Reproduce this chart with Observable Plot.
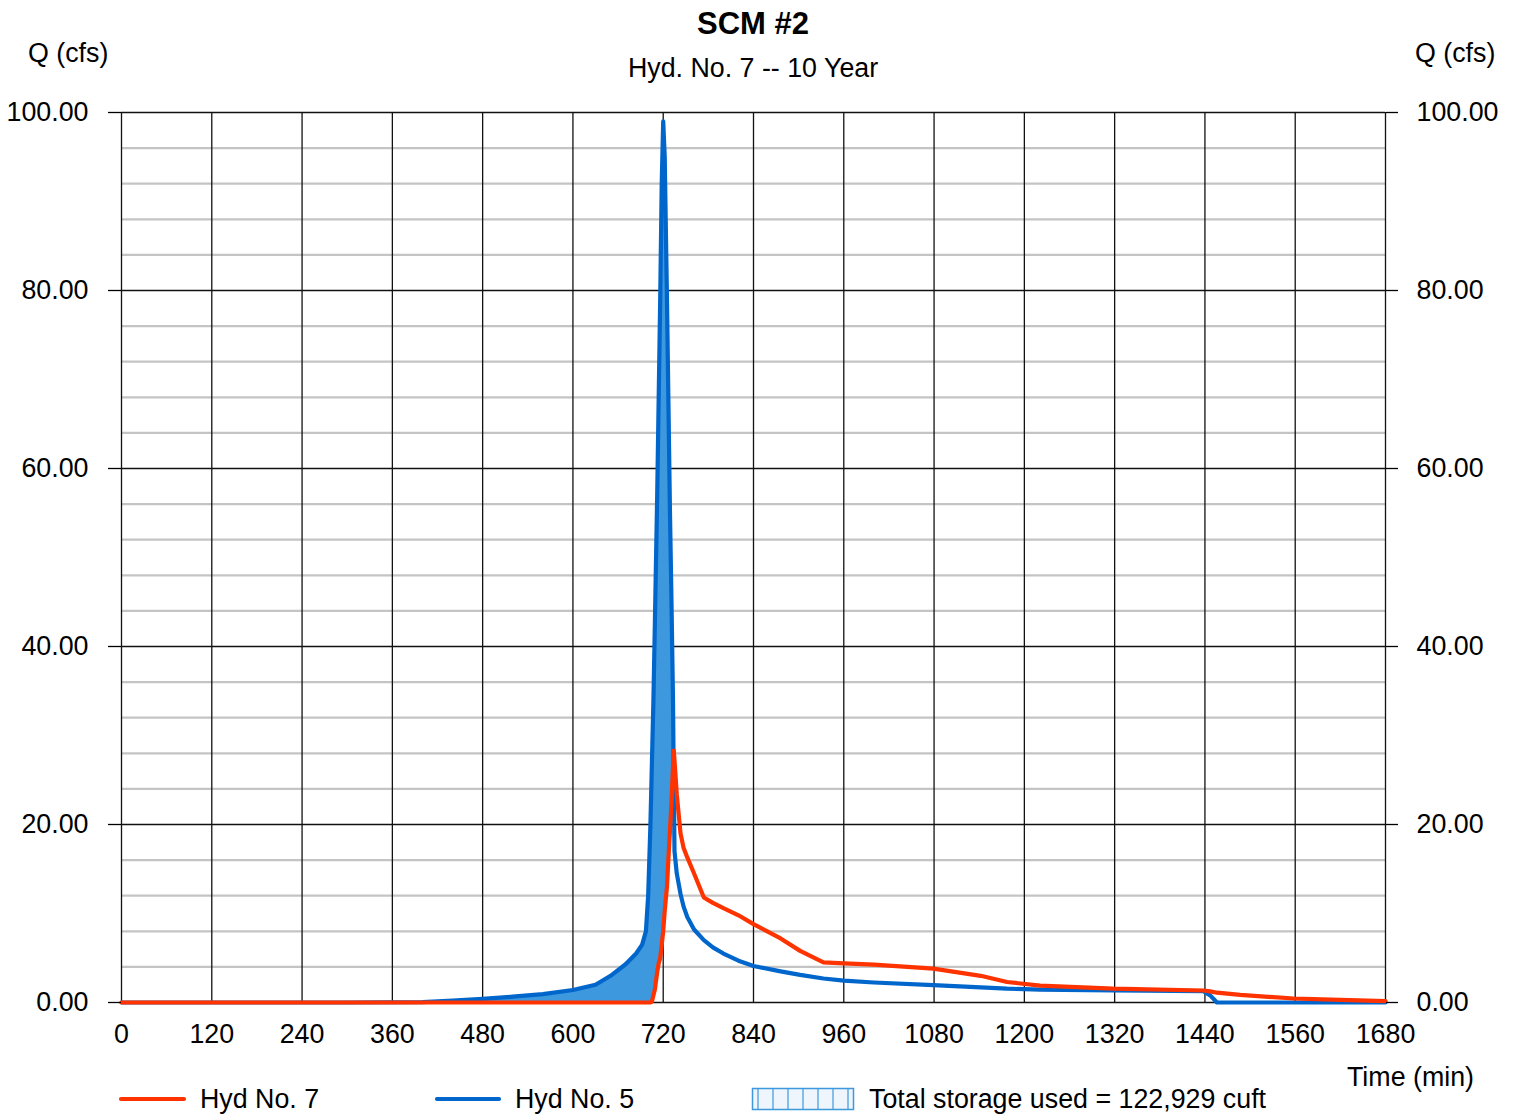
<!DOCTYPE html>
<html><head><meta charset="utf-8">
<script src="https://cdn.jsdelivr.net/npm/d3@7"></script>
<script src="https://cdn.jsdelivr.net/npm/@observablehq/plot@0.6"></script>
<style>
body{margin:0;background:#fff;font-family:"Liberation Sans",Arial,sans-serif;}
#wrap{position:relative;width:1514px;height:1114px;overflow:hidden;}
#wrap svg{position:absolute;left:0;top:0;}
.t{position:absolute;white-space:nowrap;line-height:1;color:#000;font-size:26.8px;}
.c{transform:translateX(-50%);}
</style></head><body>
<div id="wrap">
  <div id="chart"></div>
  <div class="t c" style="left:753px;top:8px;font-size:31px;font-weight:bold;">SCM #2</div>
  <div class="t c" style="left:753px;top:55px;">Hyd. No. 7 -- 10 Year</div>
  <div class="t" style="left:28px;top:40px;">Q (cfs)</div>
  <div class="t" style="left:1415px;top:40px;">Q (cfs)</div>
  <div class="t" style="left:1347px;top:1064px;">Time (min)</div>
  <div id="legend"></div>
</div>
<script>
const times = [0, 300, 400, 440, 480, 520, 560, 600, 630, 650, 670, 684, 692, 697, 700, 703, 705, 707, 709, 712, 714, 716, 718, 720, 722, 725, 727, 729, 731, 733, 734, 735, 738, 743, 747, 752, 761, 774, 786, 800, 820, 840, 876, 902, 933, 960, 1000, 1079, 1142, 1177, 1221, 1318, 1438, 1447, 1456, 1487, 1558, 1620, 1680];
const hyd5 = [0, 0, 0.05, 0.2, 0.4, 0.65, 0.95, 1.4, 2.0, 3.0, 4.3, 5.5, 6.5, 8, 12, 20, 27, 34, 43, 57, 68, 79, 92, 99, 95, 79, 67, 55, 45, 34, 25, 17, 14.5, 12.2, 10.8, 9.6, 8.2, 7.0, 6.2, 5.5, 4.7, 4.1, 3.5, 3.1, 2.7, 2.45, 2.25, 1.95, 1.7, 1.55, 1.45, 1.35, 1.28, 0.8, 0, 0, 0, 0, 0];
const hyd7 = [0, 0, 0, 0, 0, 0, 0, 0, 0, 0, 0, 0, 0, 0, 0, 0, 0.1, 0.8, 1.5, 3.4, 4.4, 5, 6.5, 8, 10.3, 13, 16.3, 19.3, 22.5, 26.5, 28.3, 27.2, 23.4, 19, 17.4, 16.3, 14.5, 11.8, 11.2, 10.6, 9.8, 8.8, 7.2, 5.8, 4.5, 4.4, 4.25, 3.8, 3.0, 2.3, 1.9, 1.55, 1.35, 1.25, 1.1, 0.85, 0.45, 0.3, 0.15];
const xTicks = d3.range(0, 1681, 120);
const yTicks = [0, 20, 40, 60, 80, 100];
const yMinor = d3.range(0, 101, 4).filter(v => v % 20 !== 0);
const legendItems = ["Hyd No. 7", "Hyd No. 5", "Total storage used = 122,929 cuft"];
const colors = {hyd7: "#ff3300", hyd5: "#0066cc", fill: "#3d98de"};

const data = times.map((t, i) => ({t, q5: hyd5[i], q7: hyd7[i]}));
const fmt = d => d.toFixed(2);

const chart = Plot.plot({
  width: 1514, height: 1114,
  marginLeft: 121, marginRight: 129, marginTop: 112, marginBottom: 112,
  x: {domain: [0, 1680]},
  y: {domain: [0, 100]},
  style: {fontFamily: '"Liberation Sans", Arial, sans-serif', fontSize: "26.8px", background: "white", color: "black"},
  marks: [
    Plot.ruleY(yMinor, {stroke: "#c4c4c4", strokeWidth: 2.2}),
    Plot.ruleX(xTicks, {stroke: "#111", strokeWidth: 1.3}),
    Plot.ruleY(yTicks, {stroke: "#111", strokeWidth: 1.3}),
    Plot.areaY(data, {x: "t", y1: "q7", y2: d => Math.max(d.q5, d.q7), fill: colors.fill}),
    Plot.lineY(data, {x: "t", y: "q5", stroke: colors.hyd5, strokeWidth: 4.2}),
    Plot.lineY(data, {x: "t", y: "q7", stroke: colors.hyd7, strokeWidth: 4.2}),
    Plot.axisY(yTicks, {anchor: "left", tickSize: 13, tickPadding: 20, tickFormat: fmt, label: null, fontSize: 26.8, strokeWidth: 1.3}),
    Plot.axisY(yTicks, {anchor: "right", tickSize: 12, tickPadding: 19, tickFormat: fmt, label: null, fontSize: 26.8, strokeWidth: 1.3}),
    Plot.axisX(xTicks, {anchor: "bottom", tickSize: 0, tickPadding: 21, tickFormat: d => String(d), label: null, fontSize: 26.8})
  ]
});
document.getElementById("chart").appendChild(chart);

// legend
const lg = document.getElementById("legend");
lg.innerHTML = `
<svg width="1514" height="1114" style="position:absolute;left:0;top:0;pointer-events:none">
  <line x1="121" x2="184" y1="1099" y2="1099" stroke="${colors.hyd7}" stroke-width="4.2" stroke-linecap="round"/>
  <line x1="437" x2="499" y1="1099" y2="1099" stroke="${colors.hyd5}" stroke-width="4.2" stroke-linecap="round"/>
  <rect x="752.5" y="1088.5" width="101" height="21" fill="#eef5fd" stroke="${colors.fill}" stroke-width="1.5"/>
  ${d3.range(758, 853, 15).map(x => `<line x1="${x}" x2="${x}" y1="1089" y2="1109" stroke="${colors.fill}" stroke-width="1.2"/>`).join("")}
</svg>
<div class="t" style="left:200px;top:1086px;">${legendItems[0]}</div>
<div class="t" style="left:515px;top:1086px;">${legendItems[1]}</div>
<div class="t" style="left:869px;top:1086px;">${legendItems[2]}</div>`;
</script>
</body></html>
